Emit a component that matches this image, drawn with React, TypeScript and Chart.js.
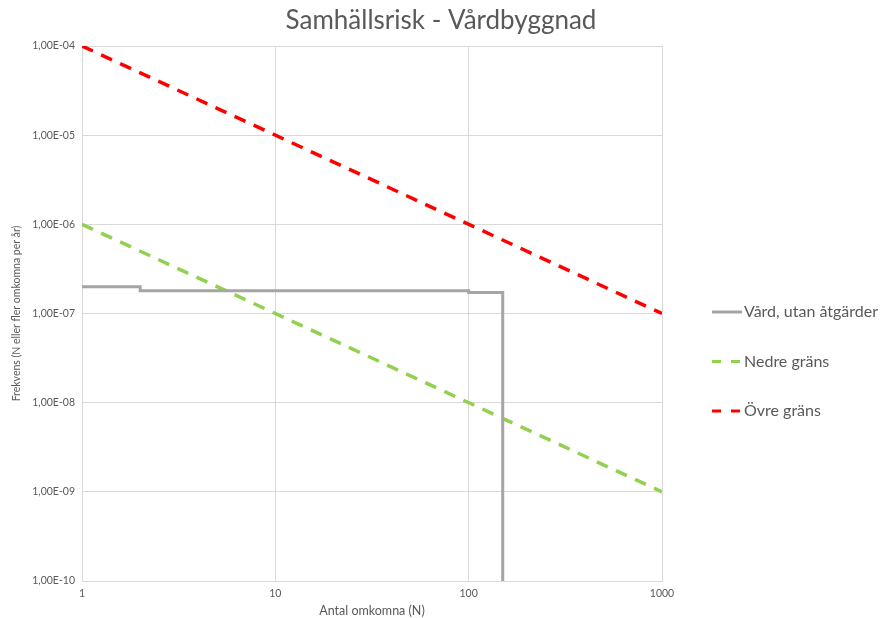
import React, { useEffect, useRef } from "react";
import { Chart, registerables } from "chart.js";

Chart.register(...registerables);

const titleText = "Samhällsrisk - Vårdbyggnad";
const xTitle = "Antal omkomna (N)";
const yTitle = "Frekvens (N eller fler omkomna per år)";

const xTickValues = [1, 10, 100, 1000];
const yTickValues = [1e-10, 1e-9, 1e-8, 1e-7, 1e-6, 1e-5, 1e-4];

// Vård, utan åtgärder (step curve)
const vardN = [1, 2, 2, 100, 100, 150, 150];
const vardF = [2e-7, 2e-7, 1.8e-7, 1.8e-7, 1.72e-7, 1.72e-7, 1e-10];

// Nedre gräns
const nedreN = [1, 1000];
const nedreF = [1e-6, 1e-9];

// Övre gräns
const ovreN = [1, 1000];
const ovreF = [1e-4, 1e-7];

const seriesNames = ["Vård, utan åtgärder", "Nedre gräns", "Övre gräns"];
const seriesColors = ["#a5a5a5", "#92d050", "#ff0000"];

const FONT = "Lato, 'Open Sans', sans-serif";
const TEXT = "#595959";

function fmtSci(v: number): string {
  const e = Math.round(Math.log10(v));
  const m = v / Math.pow(10, e);
  const ms = m.toFixed(2).replace(".", ",");
  const sign = e < 0 ? "-" : "+";
  const ae = Math.abs(e);
  return `${ms}E${sign}${ae < 10 ? "0" + ae : ae}`;
}

const overlayPlugin = {
  id: "overlay",
  afterDraw(chart: any) {
    const ctx = chart.ctx;
    const area = chart.chartArea;
    ctx.save();
    // title centred over the full canvas
    ctx.fillStyle = TEXT;
    ctx.font = `26px ${FONT}`;
    ctx.textAlign = "center";
    ctx.textBaseline = "middle";
    ctx.fillText(titleText, chart.width / 2, 21);

    // legend
    const x0 = area.right + 50;
    const startY = area.top + 266;
    const gap = 49.5;
    chart.data.datasets.forEach((ds: any, i: number) => {
      const y = startY + i * gap;
      ctx.beginPath();
      ctx.strokeStyle = ds.borderColor;
      ctx.lineWidth = 3;
      ctx.setLineDash(ds.borderDash && ds.borderDash.length ? [9, 10] : []);
      ctx.moveTo(x0, y);
      ctx.lineTo(x0 + 30, y);
      ctx.stroke();
      ctx.setLineDash([]);
      ctx.fillStyle = TEXT;
      ctx.font = `16px ${FONT}`;
      ctx.textBaseline = "middle";
      ctx.textAlign = "left";
      ctx.fillText(ds.label, x0 + 32, y);
    });
    ctx.restore();
  },
};

export default function App() {
  const ref = useRef<HTMLCanvasElement | null>(null);

  useEffect(() => {
    document.body.style.margin = "0";
    const canvas = ref.current;
    if (!canvas) return;
    const mk = (xs: number[], ys: number[]) => xs.map((x, i) => ({ x, y: ys[i] }));
    const chart = new Chart(canvas, {
      type: "scatter",
      data: {
        datasets: [
          {
            label: seriesNames[0],
            data: mk(vardN, vardF),
            showLine: true,
            borderColor: seriesColors[0],
            backgroundColor: seriesColors[0],
            borderWidth: 3,
            pointRadius: 0,
            borderDash: [],
          },
          {
            label: seriesNames[1],
            data: mk(nedreN, nedreF),
            showLine: true,
            borderColor: seriesColors[1],
            backgroundColor: seriesColors[1],
            borderWidth: 3.5,
            pointRadius: 0,
            borderDash: [12, 9],
          },
          {
            label: seriesNames[2],
            data: mk(ovreN, ovreF),
            showLine: true,
            borderColor: seriesColors[2],
            backgroundColor: seriesColors[2],
            borderWidth: 3.5,
            pointRadius: 0,
            borderDash: [12, 9],
          },
        ],
      },
      options: {
        animation: false,
        responsive: false,
        maintainAspectRatio: false,
        layout: { padding: { left: 0, right: 220, top: 46, bottom: 0 } },
        plugins: {
          legend: { display: false },
          tooltip: { enabled: false },
          title: { display: false },
        },
        scales: {
          x: {
            type: "logarithmic",
            min: 1,
            max: 1000,
            afterBuildTicks: (scale: any) => {
              scale.ticks = xTickValues.map((v) => ({ value: v }));
            },
            afterFit: (scale: any) => {
              scale.height = 37;
            },
            ticks: {
              color: TEXT,
              font: { family: FONT, size: 10.5 },
              padding: 6,
              maxRotation: 0,
              autoSkip: false,
              callback: (v: any) => String(v),
            },
            grid: { color: "#d9d9d9", drawTicks: false },
            border: { color: "#d9d9d9" },
            title: {
              display: true,
              text: xTitle,
              color: TEXT,
              font: { family: FONT, size: 12.5 },
              padding: { top: 0, bottom: 0 },
            },
          },
          y: {
            type: "logarithmic",
            min: 1e-10,
            max: 1e-4,
            afterBuildTicks: (scale: any) => {
              scale.ticks = yTickValues.map((v) => ({ value: v }));
            },
            afterFit: (scale: any) => {
              scale.width = 82;
            },
            ticks: {
              color: TEXT,
              font: { family: FONT, size: 10.5 },
              padding: 7,
              autoSkip: false,
              callback: (v: any) => fmtSci(Number(v)),
            },
            grid: { color: "#d9d9d9", drawTicks: false },
            border: { color: "#d9d9d9" },
            title: {
              display: true,
              text: yTitle,
              color: TEXT,
              font: { family: FONT, size: 10.5 },
              padding: { top: 10, bottom: 0 },
            },
          },
        },
      },
      plugins: [overlayPlugin],
    } as any);
    return () => chart.destroy();
  }, []);

  return (
    <div style={{ width: 882, height: 618, background: "#fff" }}>
      <canvas ref={ref} width={882} height={618} style={{ display: "block" }} />
    </div>
  );
}
